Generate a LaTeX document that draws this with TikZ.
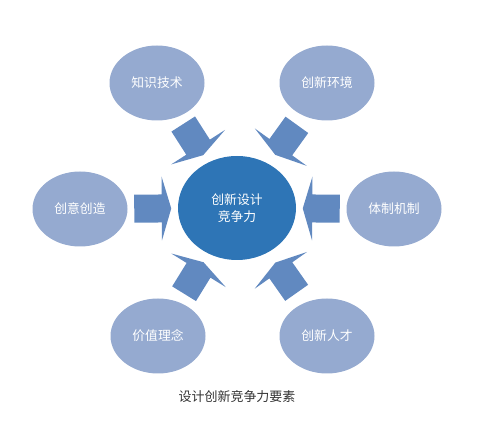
\documentclass[tikz,border=0pt]{standalone}
\usepackage{fontspec}
\setmainfont{Noto Sans CJK SC}
\usepackage{xcolor}
\usepackage{tikz}
\usetikzlibrary{shapes.geometric}
\definecolor{hubblue}{HTML}{2E75B6}
\definecolor{elemblue}{HTML}{95AAD0}
\definecolor{arrblue}{HTML}{6189C0}
\begin{document}
\begin{tikzpicture}[x=1pt, y=-1pt,
  font=\fontsize{12.8}{17}\selectfont,
  elem/.style={ellipse, fill=elemblue, text=white, minimum width=95pt, minimum height=75pt, inner sep=0pt},
  hub/.style={ellipse, fill=hubblue, text=white, align=center, minimum width=118pt, minimum height=104pt, inner sep=0pt},
  fatarr/.style={fill=arrblue}]
\useasboundingbox (0,0) rectangle (480,422);
% centre
\node[hub] (core) at (237,208) {创新设计\\竞争力};
% elements
\node[elem] (know) at (157,83)  {知识技术};
\node[elem] (env)  at (327,83)  {创新环境};
\node[elem] (orig) at (80,209)  {创意创造};
\node[elem] (inst) at (394,209) {体制机制};
\node[elem] (val)  at (158,336) {价值理念};
\node[elem] (tal)  at (327,336) {创新人才};
% caption
\node[text=black!80, font=\fontsize{13}{15}\selectfont] (cap) at (237,397) {设计创新竞争力要素};
% block arrows towards the centre
\foreach \o in {know,env,orig,inst,val,tal}{
  \path (\o) -- coordinate[midway] (m\o) (core);
  \pgfmathanglebetweenpoints{\pgfpointanchor{\o}{center}}{\pgfpointanchor{core}{center}}
  \let\ang\pgfmathresult
  \fill[fatarr, shift={(m\o)}, rotate=\ang]
    (-18.5pt,-14pt) -- (9pt,-14pt) -- (9pt,-32pt) -- (18.5pt,0pt)
    -- (9pt,32pt) -- (9pt,14pt) -- (-18.5pt,14pt) -- cycle;
}
\end{tikzpicture}
\end{document}
